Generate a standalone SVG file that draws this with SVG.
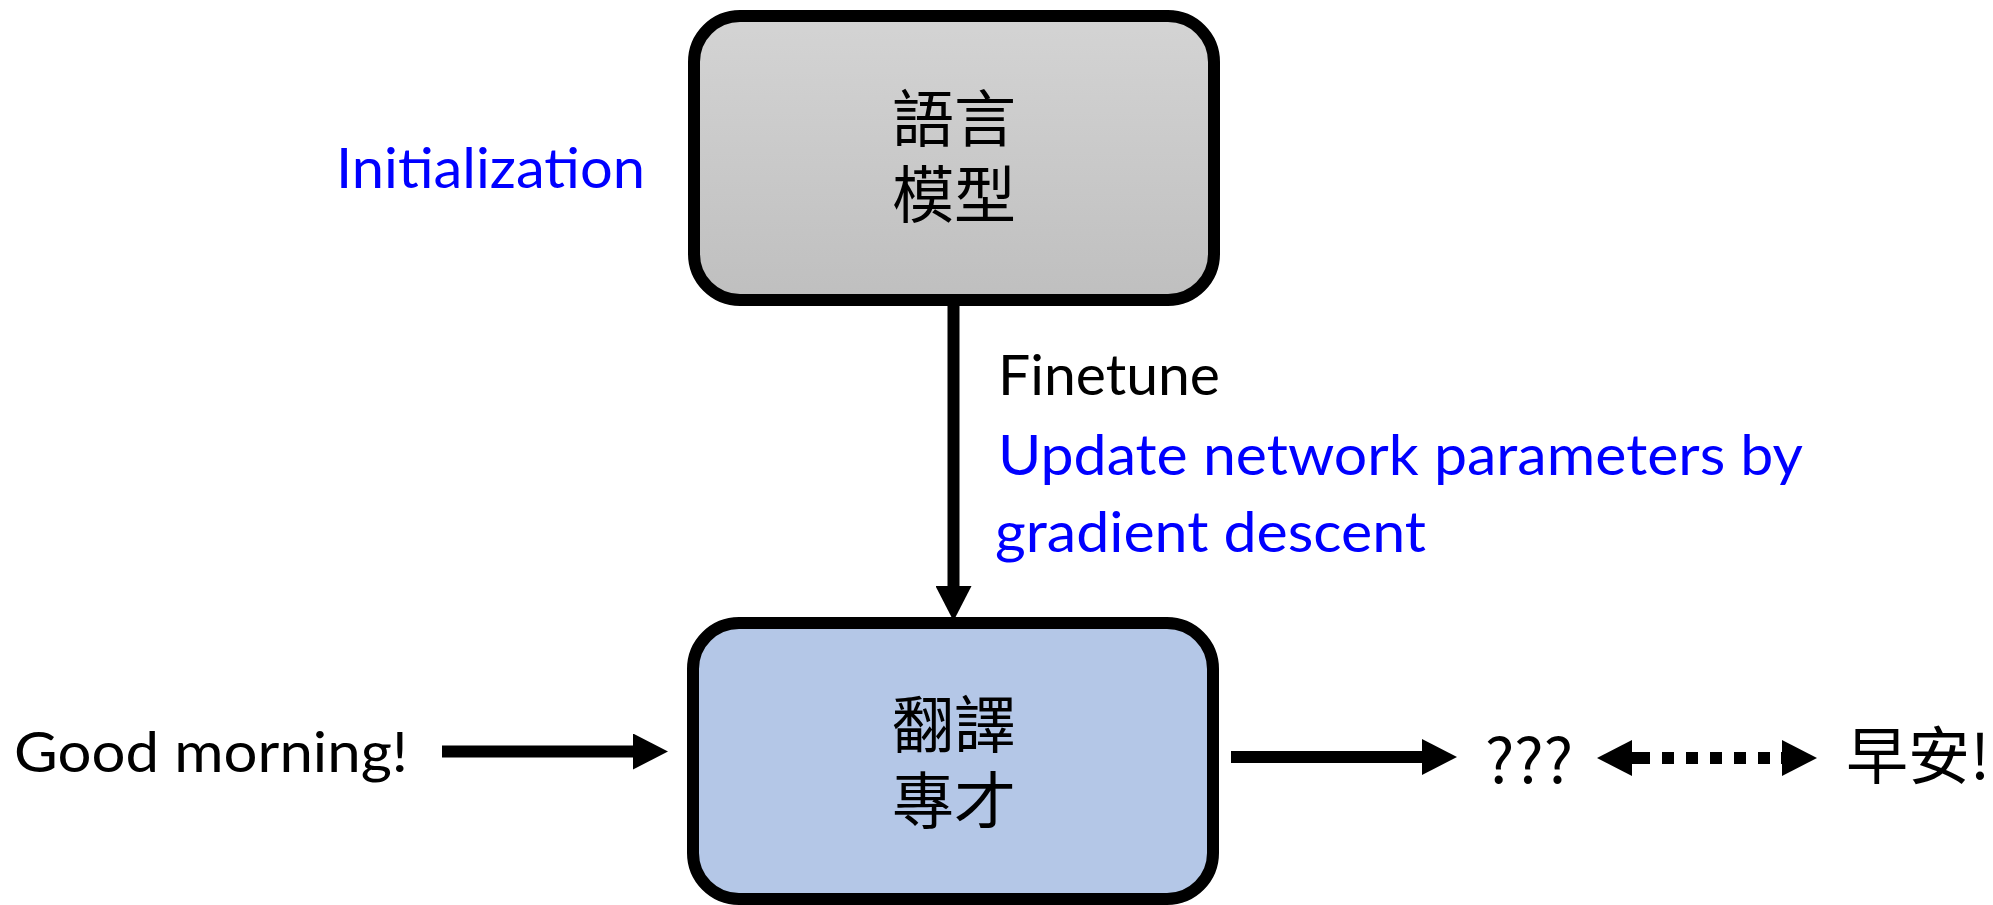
<svg xmlns="http://www.w3.org/2000/svg" width="1993" height="905" viewBox="0 0 1993 905">
  <defs>
    <linearGradient id="grayFill" x1="0" y1="0" x2="0" y2="1">
      <stop offset="0" stop-color="#d4d4d4"/>
      <stop offset="1" stop-color="#bfbfbf"/>
    </linearGradient>
    <marker id="head" viewBox="0 -18 35 36" markerWidth="35" markerHeight="36" refX="0" refY="0" markerUnits="userSpaceOnUse" orient="auto-start-reverse">
      <path d="M0,-18 L35,0 L0,18 z" fill="#000"/>
    </marker>
    <style>
      .box { stroke: #000; stroke-width: 12; }
      .cjk { font-family: "Noto Sans CJK TC", "Noto Sans CJK SC", sans-serif; font-size: 62px; fill: #000; }
      .lat { font-family: Lato, "Open Sans", sans-serif; font-size: 57px; }
      .blue { fill: #0000ff; }
      .black { fill: #000; }
      .wire { stroke: #000; stroke-width: 12; fill: none; }
      .dotted { stroke-dasharray: 12 12; }
    </style>
  </defs>

  <!-- language model -->
  <g id="language-model">
    <rect class="box" x="694" y="16" width="520" height="284" rx="46" ry="46" fill="url(#grayFill)"/>
    <text class="cjk" text-anchor="middle"><tspan x="954" y="142">語言</tspan><tspan x="954" y="218">模型</tspan></text>
  </g>

  <!-- translation expert -->
  <g id="translator">
    <rect class="box" x="693" y="623" width="520" height="276" rx="46" ry="46" fill="#b4c7e7"/>
    <text class="cjk" text-anchor="middle"><tspan x="954" y="748">翻譯</tspan><tspan x="954" y="824">專才</tspan></text>
  </g>

  <g id="init-label">
    <text class="lat blue" x="336" y="188" textLength="309" lengthAdjust="spacingAndGlyphs">Initialization</text>
  </g>

  <g id="finetune-label">
    <text class="lat black" x="998" y="395" textLength="222" lengthAdjust="spacingAndGlyphs">Finetune</text>
    <text class="lat blue" x="998" y="475" textLength="805" lengthAdjust="spacingAndGlyphs">Update network parameters by</text>
    <text class="lat blue" x="995" y="552" textLength="431" lengthAdjust="spacingAndGlyphs">gradient descent</text>
  </g>

  <g id="input">
    <text class="lat black" x="14" y="772" textLength="394" lengthAdjust="spacingAndGlyphs">Good morning!</text>
  </g>

  <g id="output">
    <text class="cjk" x="1485" y="783" textLength="88" lengthAdjust="spacingAndGlyphs">???</text>
  </g>

  <g id="reference">
    <text class="cjk" x="1846" y="779">早安!</text>
  </g>

  <!-- connectors -->
  <g id="connectors">
    <line class="wire" x1="953.5" y1="300" x2="953.5" y2="586" marker-end="url(#head)"/>
    <line class="wire" x1="442" y1="751.5" x2="633" y2="751.5" marker-end="url(#head)"/>
    <line class="wire" x1="1231" y1="757" x2="1422" y2="757" marker-end="url(#head)"/>
    <line class="wire dotted" x1="1638" y1="758" x2="1782" y2="758"/>
    <line class="wire" x1="1632" y1="758" x2="1638" y2="758" marker-start="url(#head)" stroke-width="0"/>
    <line class="wire" x1="1781" y1="758" x2="1782" y2="758" marker-end="url(#head)" stroke-width="0"/>
  </g>
</svg>
